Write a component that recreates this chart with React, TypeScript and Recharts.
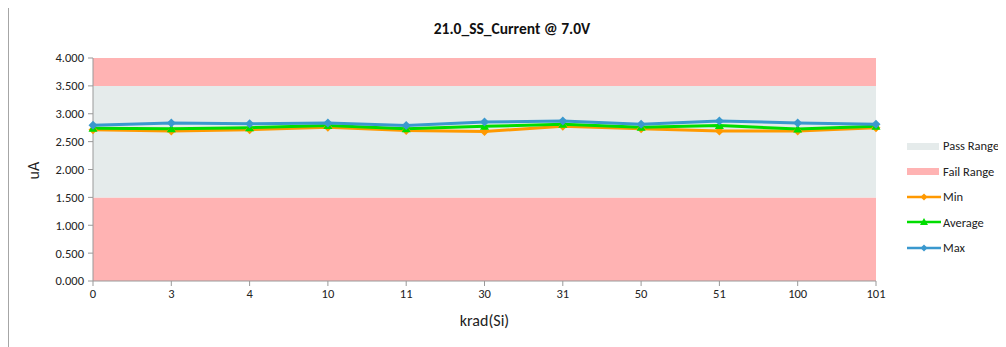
import React from 'react';
import { LineChart, Line, XAxis, YAxis, ReferenceArea, Legend } from 'recharts';

const categories = ['0', '3', '4', '10', '11', '30', '31', '50', '51', '100', '101'];
const minValues = [2.715, 2.69, 2.715, 2.76, 2.7, 2.68, 2.775, 2.73, 2.69, 2.69, 2.75];
const avgValues = [2.74, 2.73, 2.75, 2.79, 2.73, 2.775, 2.81, 2.76, 2.79, 2.725, 2.775];
const maxValues = [2.793, 2.835, 2.82, 2.835, 2.79, 2.85, 2.87, 2.81, 2.87, 2.835, 2.81];
const yTicks = [0, 0.5, 1, 1.5, 2, 2.5, 3, 3.5, 4];

const data = categories.map((c, i) => ({
  krad: c,
  min: minValues[i],
  avg: avgValues[i],
  max: maxValues[i],
}));

const FONT = 'Carlito, "Open Sans", "Liberation Sans", sans-serif';
const PASS = '#E5EBEB';
const FAIL = '#FFB3B3';
const ORANGE = '#FF9900';
const GREEN = '#00DD00';
const BLUE = '#3A98CE';

const Diamond = (color: string) => (props: any) => {
  const { cx, cy, index } = props;
  if (cx == null || cy == null) return null;
  return <path key={`d-${index}`} d={`M${cx},${cy - 4.5}L${cx + 4.5},${cy}L${cx},${cy + 4.5}L${cx - 4.5},${cy}Z`} fill={color} />;
};

const Triangle = (color: string) => (props: any) => {
  const { cx, cy, index } = props;
  if (cx == null || cy == null) return null;
  return <path key={`t-${index}`} d={`M${cx},${cy - 4.5}L${cx + 4.5},${cy + 3.5}L${cx - 4.5},${cy + 3.5}Z`} fill={color} />;
};

const legendItems = [
  { name: 'Pass Range', type: 'rect', color: PASS },
  { name: 'Fail Range', type: 'rect', color: FAIL },
  { name: 'Min', type: 'line', color: ORANGE },
  { name: 'Average', type: 'line', color: GREEN },
  { name: 'Max', type: 'line', color: BLUE },
];

const CustomLegend = () => (
  <div style={{ fontFamily: FONT, fontSize: 12.5, color: '#222' }}>
    {legendItems.map((item) => (
      <div key={item.name} style={{ display: 'flex', alignItems: 'center', height: 25.5 }}>
        <svg width={34} height={10} style={{ marginRight: 2 }}>
          {item.type === 'rect' ? (
            <rect x={0} y={2} width={32} height={7} fill={item.color} />
          ) : (
            <g>
              <line x1={0} y1={5} x2={34} y2={5} stroke={item.color} strokeWidth={2.5} />
              {item.name === 'Average' ? (
                <path d="M17,1L21,8L13,8Z" fill={item.color} />
              ) : (
                <path d="M17,1.5L20.5,5L17,8.5L13.5,5Z" fill={item.color} />
              )}
            </g>
          )}
        </svg>
        <span>{item.name}</span>
      </div>
    ))}
  </div>
);

export default function App() {
  return (
    <div
      style={{
        position: 'relative',
        marginTop: -2,
        width: 998,
        height: 341,
        borderTop: '1px solid #a6a6a6',
        borderLeft: '1px solid #a6a6a6',
        overflow: 'hidden',
        fontFamily: FONT,
      }}
    >
      <div
        style={{
          position: 'absolute',
          left: 0,
          top: 12,
          width: 1006,
          textAlign: 'center',
          fontWeight: 'bold',
          fontSize: 15.5,
          color: '#111',
        }}
      >
        21.0_SS_Current @ 7.0V
      </div>
      <LineChart
        width={997}
        height={340}
        data={data}
        margin={{ top: 51, right: 30, left: 34, bottom: 36 }}
      >
        <ReferenceArea y1={0} y2={1.5} fill={FAIL} fillOpacity={1} stroke="none" ifOverflow="visible" />
        <ReferenceArea y1={1.5} y2={3.5} fill={PASS} fillOpacity={1} stroke="none" ifOverflow="visible" />
        <ReferenceArea y1={3.5} y2={4} fill={FAIL} fillOpacity={1} stroke="none" ifOverflow="visible" />
        <XAxis
          dataKey="krad"
          stroke="#999"
          tickLine={{ stroke: '#999' }}
          tickSize={5}
          tickMargin={3}
          tick={{ fontSize: 12.5, fill: '#222', fontFamily: FONT }}
          height={30}
          label={{ value: 'krad(Si)', position: 'insideBottom', offset: -15, fontSize: 16, fill: '#222', fontFamily: FONT }}
        />
        <YAxis
          domain={[0, 4]}
          ticks={yTicks}
          width={50}
          stroke="#999"
          tickLine={{ stroke: '#999' }}
          tickSize={5}
          tickMargin={4}
          tickFormatter={(v: number) => v.toFixed(3)}
          tick={{ fontSize: 12.5, fill: '#222', fontFamily: FONT }}
          label={{ value: 'uA', angle: -90, position: 'insideLeft', offset: -10, dy: 10, fontSize: 16, fill: '#222', fontFamily: FONT }}
        />
        <Legend
          layout="vertical"
          align="right"
          verticalAlign="top"
          content={<CustomLegend />}
          wrapperStyle={{ position: 'absolute', left: 898, top: 126, width: 100 }}
        />
        <Line dataKey="min" name="Min" stroke={ORANGE} strokeWidth={3} dot={Diamond(ORANGE)} activeDot={false} isAnimationActive={false} />
        <Line dataKey="avg" name="Average" stroke={GREEN} strokeWidth={3} dot={Triangle(GREEN)} activeDot={false} isAnimationActive={false} />
        <Line dataKey="max" name="Max" stroke={BLUE} strokeWidth={3} dot={Diamond(BLUE)} activeDot={false} isAnimationActive={false} />
      </LineChart>
    </div>
  );
}
